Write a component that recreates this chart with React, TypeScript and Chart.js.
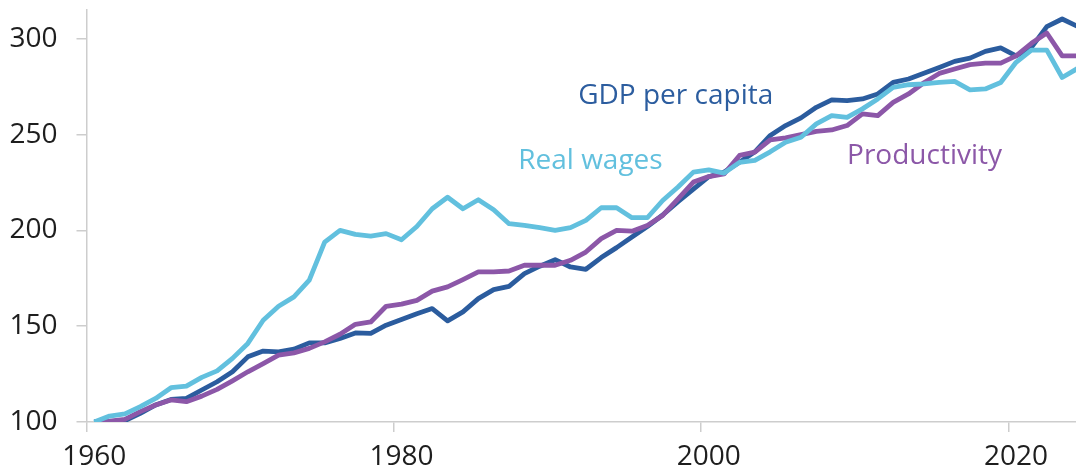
import React, { useEffect, useRef } from "react";
import { Chart, registerables } from "chart.js";

Chart.register(...registerables);

const startYear = 1960;

const gdpPerCapita = [
  100, 100.2, 100.7, 104.5, 108.9, 111.8, 112.3, 116.7, 121, 126.2,
  134, 137, 136.6, 138, 141.3, 141.3, 143.6, 146.5, 146.2, 150.5,
  153.5, 156.5, 159.2, 152.8, 157.5, 164.4, 169.1, 170.8, 177.4, 181.3,
  184.7, 180.9, 179.7, 185.8, 191, 196.5, 202, 208, 215, 221.5,
  228, 230.5, 235.6, 241, 249.5, 254.7, 258.7, 264.2, 268.1, 267.7,
  268.6, 271.2, 277.2, 279, 282, 285, 288.2, 289.9, 293.4, 295.2,
  291.1, 295.5, 306.3, 310.3, 306.5,
];

const realWages = [
  100, 103.1, 104.2, 108, 112.3, 117.9, 118.7, 123.3, 126.7, 133.2,
  141, 153.1, 160.4, 165.3, 174, 193.9, 200, 197.9, 197, 198.3,
  195.1, 202, 211.3, 217.3, 211.3, 216, 210.8, 203.5, 202.6, 201.4,
  200, 201.4, 205.2, 211.8, 211.8, 206.6, 206.6, 215.6, 222.6, 230.4,
  231.6, 229.9, 235.5, 236.5, 241, 246, 248.6, 255.6, 259.9, 259,
  263.4, 268.6, 274.6, 276, 276.4, 277.2, 277.8, 273.3, 273.8, 277.2,
  287.7, 294.1, 294.1, 279.8, 284.5,
];

const productivity = [
  100, 100.5, 101.4, 105.4, 108.9, 111.5, 110.6, 113.5, 117, 121.5,
  126.2, 130.5, 134.9, 136.1, 138.4, 141.8, 145.8, 151, 152.2, 160.4,
  161.5, 163.5, 168.3, 170.5, 174.3, 178.3, 178.3, 178.8, 181.8, 181.8,
  181.8, 184.4, 188.7, 195.7, 200, 199.6, 202.6, 207.8, 216.5, 225.2,
  228.1, 229.5, 239.1, 240.8, 247.2, 248.3, 250, 251.7, 252.4, 254.7,
  260.8, 259.9, 266.8, 271.2, 277, 281.9, 284.2, 286.5, 287.3, 287.3,
  291.1, 297.6, 303, 291.1, 291.1,
];

const years = gdpPerCapita.map((_, i) => startYear + i);

const xTicks = [1960, 1980, 2000, 2020];
const yTicks = [100, 150, 200, 250, 300];

const seriesLabels = [
  { text: "GDP per capita", year: 1992, value: 270, color: "#2c5d9f" },
  { text: "Real wages", year: 1988.1, value: 236, color: "#62c0de" },
  { text: "Productivity", year: 2009.5, value: 239, color: "#8c58a8" },
];

const COLORS = {
  gdp: "#2b5c9e",
  wages: "#62c0de",
  prod: "#8c57a8",
  axis: "#cdcdcd",
  text: "#1e1e1e",
};

const FONT = "'Open Sans', 'Noto Sans', sans-serif";
const FONT_SIZE = 28;

const toPoints = (arr: number[]) => arr.map((v, i) => ({ x: years[i] + 0.5, y: v }));

const labelPlugin = {
  id: "seriesLabels",
  afterDatasetsDraw(chart: any) {
    const { ctx, scales } = chart;
    ctx.save();
    ctx.font = `${FONT_SIZE}px ${FONT}`;
    ctx.textAlign = "left";
    ctx.textBaseline = "middle";
    seriesLabels.forEach((l) => {
      ctx.fillStyle = l.color;
      ctx.fillText(l.text, scales.x.getPixelForValue(l.year), scales.y.getPixelForValue(l.value));
    });
    ctx.restore();
  },
};

export default function App() {
  const canvasRef = useRef<HTMLCanvasElement | null>(null);

  useEffect(() => {
    if (!canvasRef.current) return;
    const lineDs = (label: string, data: number[], color: string) => ({
      label,
      data: toPoints(data),
      borderColor: color,
      backgroundColor: color,
      borderWidth: 4.8,
      pointRadius: 0,
      tension: 0,
      borderJoinStyle: "round" as const,
      fill: false,
    });
    const chart = new Chart(canvasRef.current, {
      type: "line",
      data: {
        datasets: [
          lineDs("Real wages", realWages, COLORS.wages),
          lineDs("Productivity", productivity, COLORS.prod),
          lineDs("GDP per capita", gdpPerCapita, COLORS.gdp),
        ],
      },
      options: {
        animation: false,
        responsive: false,
        devicePixelRatio: 1,
        layout: { padding: { top: 10, right: 0, left: 0, bottom: 0 } },
        plugins: {
          legend: { display: false },
          tooltip: { enabled: false },
        },
        scales: {
          x: {
            type: "linear",
            min: 1960,
            max: 2024.4,
            afterBuildTicks: (scale: any) => {
              scale.ticks = xTicks.map((v) => ({ value: v }));
            },
            afterFit: (scale: any) => {
              scale.height = 49;
              scale.paddingLeft = 0;
              scale.paddingRight = 0;
            },
            grid: {
              drawOnChartArea: false,
              drawTicks: true,
              tickLength: 10,
              color: COLORS.axis,
              lineWidth: 1.5,
            },
            border: { display: true, color: COLORS.axis, width: 1.5 },
            ticks: {
              padding: 8,
              labelOffset: 7.7,
              maxRotation: 0,
              autoSkip: false,
              color: COLORS.text,
              font: { family: FONT, size: FONT_SIZE },
              callback: (v: any) => String(v),
            },
          },
          y: {
            type: "linear",
            min: 100,
            max: 315,
            afterBuildTicks: (scale: any) => {
              scale.ticks = yTicks.map((v) => ({ value: v }));
            },
            afterFit: (scale: any) => {
              scale.width = 86.5;
              scale.paddingTop = 0;
              scale.paddingBottom = 0;
            },
            grid: {
              drawOnChartArea: false,
              drawTicks: true,
              tickLength: 10,
              color: COLORS.axis,
              lineWidth: 1.5,
            },
            border: { display: true, color: COLORS.axis, width: 1.5 },
            ticks: {
              padding: 19,
              autoSkip: false,
              color: COLORS.text,
              font: { family: FONT, size: FONT_SIZE },
              callback: (v: any) => String(v),
            },
          },
        },
      },
      plugins: [labelPlugin],
    });
    return () => chart.destroy();
  }, []);

  return (
    <div style={{ position: "fixed", left: 0, top: 0, width: 1076, height: 471, background: "#fff" }}>
      <canvas ref={canvasRef} width={1076} height={471} style={{ display: "block" }} />
    </div>
  );
}
